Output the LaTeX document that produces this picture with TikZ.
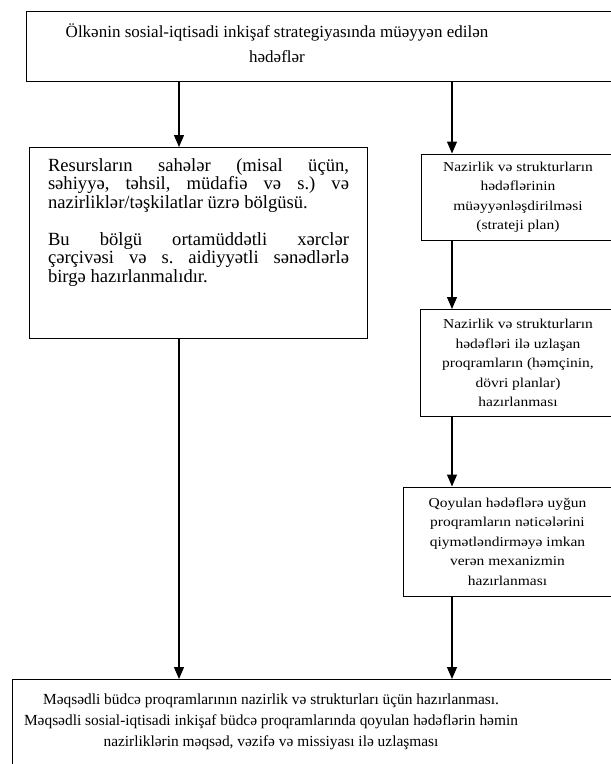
\documentclass[tikz,border=0pt]{standalone}
\usepackage{fontspec}
\setmainfont{Liberation Serif}
\newfontfamily\rightfont[FakeStretch=1.14]{Liberation Serif}
\usetikzlibrary{arrows.meta}
\frenchspacing
\newcommand{\jline}[1]{\makebox[\linewidth][s]{#1}\\}
\begin{document}
\begin{tikzpicture}[x=1pt,y=-1pt,
  box/.style={draw, line width=1pt, rectangle, inner sep=0pt, anchor=north west},
  rbox/.style={draw, line width=1pt, rectangle, inner sep=0pt, align=center,
    font=\rightfont\fontsize{13.6}{19.5}\selectfont},
  txt/.style={align=center, inner sep=0pt},
  arr/.style={line width=1.1pt, -{Triangle[length=12pt,width=10pt]}}]
\clip (0,0) rectangle (611,764);
\fill[white] (0,0) rectangle (611,764);
% top box
\node[box, minimum width=600pt, minimum height=70pt] (top) at (26,11) {};
\node[txt, font=\fontsize{17}{25}\selectfont] (toptext) at (277,43)
  {Ölkənin sosial-iqtisadi inkişaf strategiyasında müəyyən edilən\\hədəflər};
% left box
\node[box, minimum width=338pt, minimum height=191pt] (left) at (29,147)
  {\parbox[c][169pt][t]{301pt}{\frenchspacing\fontsize{18.6}{18.5}\selectfont
   \jline{Resursların sahələr (misal üçün,}
   \jline{səhiyyə, təhsil, müdafiə və s.) və}
   nazirliklər/təşkilatlar üzrə bölgüsü.\\[18.5pt]
   \jline{Bu bölgü ortamüddətli xərclər}
   \jline{çərçivəsi və s.\ aidiyyətli sənədlərlə}
   birgə hazırlanmalıdır.}};
% right boxes
\node[rbox, minimum width=194pt, minimum height=86pt] (r1) at (518,197)
  {Nazirlik və strukturların\\hədəflərinin\\müəyyənləşdirilməsi\\(strateji plan)};
\node[rbox, minimum width=196pt, minimum height=107pt] (r2) at (518,363)
  {Nazirlik və strukturların\\hədəfləri ilə uzlaşan\\proqramların (həmçinin,\\dövri planlar)\\hazırlanması};
\node[rbox, minimum width=209pt, minimum height=109pt] (r3) at (507.5,541.5)
  {Qoyulan hədəflərə uyğun\\proqramların nəticələrini\\qiymətləndirməyə imkan\\verən mexanizmin\\hazırlanması};
% bottom box
\node[box, minimum width=620pt, minimum height=100pt] (bot) at (12,679) {};
\node[txt, font=\fontsize{15.4}{21}\selectfont] (bottext) at (271,722)
  {Məqsədli büdcə proqramlarının nazirlik və strukturları üçün hazırlanması.\\
   Məqsədli sosial-iqtisadi inkişaf büdcə proqramlarında qoyulan hədəflərin həmin\\
   nazirliklərin məqsəd, vəzifə və missiyası ilə uzlaşması};
% connectors
\coordinate (lx) at (179,0);
\coordinate (rx) at (452,0);
\draw[arr] (top.south -| lx) -- (left.north -| lx);
\draw[arr] (top.south -| rx) -- (r1.north -| rx);
\draw[arr] (r1.south -| rx) -- (r2.north -| rx);
\draw[arr] (r2.south -| rx) -- (r3.north -| rx);
\draw[arr] (left.south -| lx) -- (bot.north -| lx);
\draw[arr] (r3.south -| rx) -- (bot.north -| rx);
\end{tikzpicture}
\end{document}
